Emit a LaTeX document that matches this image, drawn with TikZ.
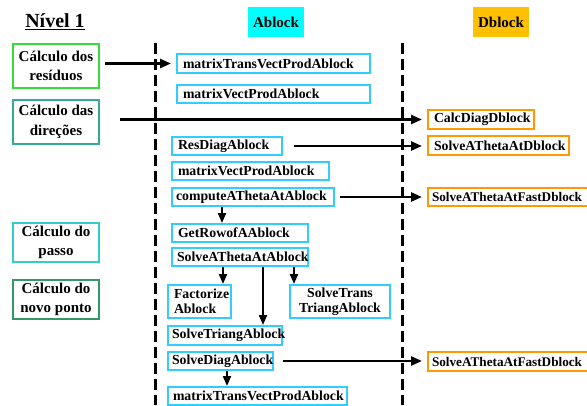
\documentclass[tikz,border=0pt]{standalone}
\usepackage{fontspec}
\setmainfont{Liberation Serif}
\usetikzlibrary{arrows.meta}
\definecolor{boxblue}{HTML}{33CCFF}
\definecolor{boxorange}{HTML}{FF9900}
\definecolor{hdrcyan}{HTML}{00FFFF}
\definecolor{hdrorange}{HTML}{FFC000}
\definecolor{cgreen}{HTML}{33DD33}
\definecolor{cteal}{HTML}{33AA99}
\definecolor{ccyan}{HTML}{33CCCC}
\definecolor{cdark}{HTML}{339966}
\begin{document}
\begin{tikzpicture}[x=1pt,y=-1pt,
  txt/.style={font=\bfseries\fontsize{13.8}{15}\selectfont,
    execute at begin node={\hyphenpenalty=10000\exhyphenpenalty=10000}},
  abox/.style={txt,draw=boxblue,line width=2pt,inner ysep=0pt,inner xsep=6pt,align=left},
  dbox/.style={txt,draw=boxorange,line width=2pt,inner ysep=0pt,inner xsep=6pt,align=left},
  fastbox/.style={dbox,font=\bfseries\fontsize{13.2}{15}\selectfont,inner xsep=4pt,text width=153pt},
  lbox/.style={draw,line width=2pt,inner sep=0pt,align=center,minimum width=86pt,
    font=\bfseries\fontsize{15}{19.5}\selectfont},
  hdr/.style={inner sep=0pt,minimum width=56pt,minimum height=30pt,font=\bfseries\fontsize{15}{17}\selectfont},
  arr/.style={line width=2.5pt,-{Triangle[length=11pt,width=9pt]}},
  varr/.style={line width=2pt,-{Triangle[length=10pt,width=8pt]}},
  sep/.style={line width=3pt,dash pattern=on 11pt off 5pt}]
\useasboundingbox (0,0) rectangle (587,405);
% headers
\node[font=\bfseries\fontsize{20}{22}\selectfont] (niv) at (55,22) {\underline{Nível 1}};
\node[hdr,fill=hdrcyan] (ah) at (276,22) {Ablock};
\node[hdr,fill=hdrorange] (dh) at (501,22) {Dblock};
% separators
\coordinate (s1t) at (155,43); \coordinate (s1b) at (155,405);
\coordinate (s2t) at (402,43); \coordinate (s2b) at (402,405);
\draw[sep] (s1t) -- (s1b);
\draw[sep] (s2t) -- (s2b);
% left column
\node[lbox,draw=cgreen,minimum height=44pt] (res) at (56,66) {Cálculo dos\\resíduos};
\node[lbox,draw=cteal,minimum height=44pt] (dir) at (56,122) {Cálculo das\\direções};
\node[lbox,draw=ccyan,minimum height=39pt] (pas) at (56,242.5) {Cálculo do\\passo};
\node[lbox,draw=cdark,minimum height=39pt] (nov) at (56,299.5) {Cálculo do\\novo ponto};
% Ablock column
\node[abox,text width=181pt,minimum height=19pt] (mtv1) at (273.5,63.5) {matrixTransVectProdAblock};
\node[abox,text width=181pt,minimum height=18pt] (mvp1) at (273.5,94) {matrixVectProdAblock};
\node[abox,text width=98pt,minimum height=18pt] (rdg) at (227,146) {ResDiagAblock};
\node[abox,minimum height=18pt,inner xsep=4pt,text width=154pt] (cmp) at (253,197) {computeAThetaAtAblock};
\node[abox,text width=145pt,minimum height=18pt] (mvp2) at (250.5,171) {matrixVectProdAblock};
\node[abox,text width=124pt,minimum height=18pt] (grw) at (240,233) {GetRowofAAblock};
\node[abox,text width=126pt,minimum height=18pt,inner xsep=5pt] (sva) at (240,257) {SolveAThetaAtAblock};
\node[abox,text width=51pt,minimum height=33pt] (fac) at (199.5,301.5) {Factorize\\Ablock};
\node[abox,text width=90pt,minimum height=33pt,inner xsep=5pt,align=center] (stt) at (340,301.5) {SolveTrans\\TriangAblock};
\node[abox,text width=106pt,minimum height=19pt,inner xsep=4pt] (str) at (225,335.5) {SolveTriangAblock};
\node[abox,text width=97pt,minimum height=18pt,inner xsep=4pt] (sdg) at (220.5,361) {SolveDiagAblock};
\node[abox,text width=169pt,minimum height=18pt,inner xsep=5pt] (mtv2) at (257.5,396) {matrixTransVectProdAblock};
% Dblock column
\node[dbox,text width=94pt,minimum height=19pt] (cdd) at (481,119.5) {CalcDiagDblock};
\node[dbox,text width=129pt,minimum height=19pt] (satd) at (498.5,145.5) {SolveAThetaAtDblock};
\node[fastbox,minimum height=18pt] (fst1) at (508.5,197) {SolveAThetaAtFastDblock};
\node[fastbox,minimum height=19pt] (fst2) at (508.5,361.5) {SolveAThetaAtFastDblock};
% horizontal arrows
\draw[arr,shorten <=5pt,shorten >=5pt] (res.east |- mtv1.west) -- (mtv1.west);
\draw[arr,shorten <=20pt,shorten >=5pt] (dir.east |- cdd.west) -- (cdd.west);
\draw[arr,shorten <=11pt,shorten >=5pt] (rdg.east) -- (rdg.east -| satd.west);
\draw[arr,shorten <=5pt,shorten >=5pt] (cmp.east) -- (cmp.east -| fst1.west);
\draw[arr,shorten <=9pt,shorten >=5pt] (sdg.east) -- (sdg.east -| fst2.west);
% vertical arrows
\draw[varr] ([xshift=-31pt]cmp.south) -- ([xshift=-31pt]cmp.south |- grw.north);
\draw[varr] ([xshift=-17pt]sva.south) -- ([xshift=-17pt]sva.south |- fac.north);
\draw[varr] ([xshift=23pt]sva.south) -- ([xshift=23pt]sva.south |- str.north);
\draw[varr] ([xshift=54pt]sva.south) -- ([xshift=54pt]sva.south |- stt.north);
\draw[varr] ([xshift=6.5pt]sdg.south) -- ([xshift=6.5pt]sdg.south |- mtv2.north);
\end{tikzpicture}
\end{document}
